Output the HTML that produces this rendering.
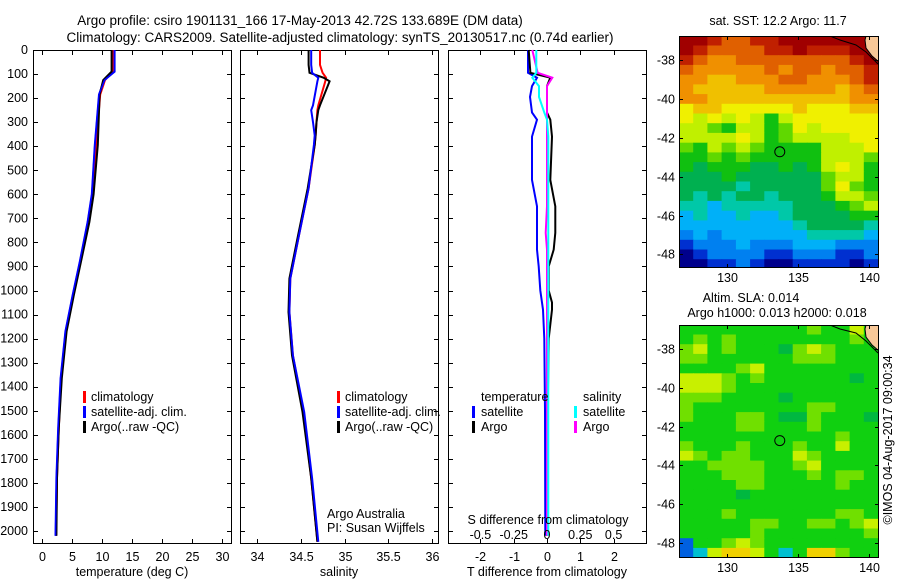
<!DOCTYPE html>
<html><head><meta charset="utf-8"><style>
html,body{margin:0;padding:0;background:#fff;}
svg{display:block;font-family:"Liberation Sans",sans-serif;}
text{font-size:12.5px;fill:#000;}
</style></head><body>
<svg id="fig" width="900" height="580" viewBox="0 0 900 580">
<text x="300" y="25" text-anchor="middle" style="font-size:13.5px">Argo profile: csiro 1901131_166 17-May-2013 42.72S 133.689E (DM data)</text>
<text x="340" y="42" text-anchor="middle" style="font-size:13.5px">Climatology: CARS2009. Satellite-adjusted climatology: synTS_20130517.nc (0.74d earlier)</text>
<text x="778" y="25" text-anchor="middle">sat. SST: 12.2 Argo: 11.7</text>
<text x="751" y="302" text-anchor="middle">Altim. SLA: 0.014</text>
<text x="777" y="317" text-anchor="middle">Argo h1000: 0.013 h2000: 0.018</text>
<text transform="translate(892,440) rotate(-90)" text-anchor="middle">©IMOS 04-Aug-2017 09:00:34</text>
<g id="g"></g>
</svg>
<script>
// ---- data ----
const depths = [0,90,125,185,395,600,715,880,1020,1170,1365,1570,1780,2020];
const tempClim = [11.8,11.8,10.5,9.7,9.0,8.5,7.7,6.4,5.2,4.0,3.2,2.8,2.5,2.35];
const tempSat = [12.1,12.1,10.4,9.5,8.8,8.3,7.6,6.3,5.1,3.9,3.1,2.7,2.4,2.25];
const tempArgo = [11.6,11.6,10.2,9.6,9.3,8.6,7.9,6.5,5.3,4.1,3.3,2.8,2.5,2.4];
const salDepths = [0,62,95,115,130,230,250,300,355,395,575,770,950,1090,1270,1505,1780,2045];
const salClim = [34.72,34.72,34.75,34.79,34.78,34.70,34.69,34.68,34.67,34.66,34.59,34.48,34.38,34.37,34.41,34.53,34.62,34.69];
const salSat = [34.62,34.62,34.63,34.70,34.69,34.64,34.62,34.64,34.66,34.65,34.59,34.48,34.38,34.37,34.41,34.54,34.63,34.70];
const salArgo = [34.59,34.59,34.60,34.76,34.83,34.72,34.70,34.68,34.67,34.66,34.58,34.47,34.37,34.36,34.40,34.52,34.62,34.69];
const dDepths = [0,95,115,150,195,260,290,360,540,650,760,830,900,1000,1050,1080,1200,1500,2020];
const dTSat = [-0.57,-0.57,-0.3,-0.45,-0.51,-0.45,-0.3,-0.45,-0.45,-0.3,-0.3,-0.3,-0.25,-0.2,-0.15,-0.12,-0.08,-0.06,-0.05];
const dTArgo = [-0.55,-0.5,0.1,0.0,0.0,0.0,0.1,0.15,0.1,0.25,0.25,0.2,0.05,0.05,0.15,0.15,0.05,0.02,0.0];
const dSArgo = [-0.11,-0.07,0.04,0.0,0.0,0.0,0.0,0.0,0.0,0.0,-0.01,0.0,0.0,0.0,0.0,0.0,0.0,0.0,0.0];
const dSSat = [-0.08,-0.08,-0.11,-0.06,-0.06,-0.02,0.0,0.01,0.01,0.01,0.01,0.01,0.01,0.01,0.01,0.01,0.01,0.01,0.01];
const depthTicks = [0,100,200,300,400,500,600,700,800,900,1000,1100,1200,1300,1400,1500,1600,1700,1800,1900,2000];
const tTicks = [0,5,10,15,20,25,30];
const sTicks = [34,34.5,35,35.5,36];
const dtTicks = [-2,-1,0,1,2];
const dsTicks = [-0.5,-0.25,0,0.25,0.5];
const sst = [
[15.2,15.2,14.7,14.2,14.2,14.7,14.7,15.2,15.2,15.2,15.2,15.2,15.2,15.2],
[15.2,14.7,14.2,14.2,14.2,14.2,14.7,14.7,15.2,14.7,14.7,14.7,15.2,15.2],
[14.7,14.2,13.7,13.7,14.2,14.2,14.2,14.2,14.2,14.2,14.2,14.2,14.7,15.2],
[14.2,13.7,13.7,13.7,13.7,13.7,14.2,13.7,14.2,14.2,13.7,14.2,14.2,14.7],
[13.7,13.7,13.3,13.3,13.7,13.7,13.7,14.2,14.2,13.7,13.7,13.7,14.2,14.7],
[13.7,13.3,13.3,13.3,13.3,13.3,13.7,13.7,13.7,13.7,13.7,13.3,13.7,14.2],
[13.7,13.7,13.3,13.3,13.3,13.3,13.3,13.3,13.3,13.3,13.3,13.3,13.7,13.7],
[12.9,13.3,13.3,12.9,12.9,12.9,12.9,12.9,13.3,12.9,12.9,12.9,13.3,13.3],
[12.9,12.6,12.9,12.6,12.9,12.6,12.0,12.6,12.9,12.9,12.9,12.9,12.9,12.9],
[12.6,12.6,12.3,12.0,12.6,12.6,12.0,12.3,12.9,12.6,12.9,12.9,12.9,12.9],
[12.6,12.6,12.6,12.6,12.9,12.6,12.0,12.3,12.6,12.6,12.6,12.6,12.9,12.9],
[12.3,12.0,12.6,12.3,12.6,12.3,12.0,12.0,12.0,12.0,12.6,12.6,12.6,12.9],
[12.0,12.0,12.3,12.0,12.3,12.0,12.0,12.0,12.0,12.0,12.6,12.6,12.6,12.3],
[12.0,11.7,12.0,12.0,12.0,11.7,11.7,12.0,11.7,12.0,12.6,12.9,12.6,12.0],
[11.7,11.7,11.7,12.0,11.7,11.7,11.7,11.7,11.7,11.7,12.3,12.6,12.6,12.0],
[11.7,11.7,11.7,11.7,11.4,11.7,11.7,11.7,11.7,11.7,12.3,12.9,12.3,12.0],
[11.7,11.4,11.7,11.4,11.7,11.7,11.4,11.7,11.7,11.7,12.0,12.6,12.6,12.3],
[11.4,11.4,11.1,11.4,11.4,11.4,11.4,11.4,11.7,11.7,11.7,12.0,12.3,12.6],
[11.1,11.4,11.1,11.1,11.4,11.1,11.1,11.4,11.7,11.7,11.7,11.7,12.0,12.0],
[11.1,11.1,11.1,11.1,11.1,11.1,11.1,11.1,11.4,11.7,11.7,11.7,11.7,11.4],
[10.8,11.1,10.8,11.1,11.1,11.1,11.1,11.1,11.1,11.4,11.4,11.4,11.4,11.1],
[10.4,10.8,10.8,10.8,11.1,10.8,10.8,10.8,11.1,11.1,11.1,10.8,10.8,10.8],
[10.0,10.4,10.8,10.8,10.8,10.8,10.4,10.4,10.8,10.8,10.8,10.4,10.4,10.8],
[10.0,10.0,10.4,10.4,10.8,10.4,10.0,10.0,10.4,10.4,10.4,10.4,10.0,10.4]];
const sla = [
[0,0,0,0,0,0,0,0,0,0.04,0,0,0.08,0],
[0,0.04,0,0.04,0,0,0,0,0,0,0,0,0.04,0],
[0.04,0.08,0,0.04,0,0,0,-0.03,0.04,0.08,0.04,0,0,0],
[0.04,0.04,0,0,0,0,0,0,0.04,0.04,0.04,0,0,0],
[0,0,0,0,0.04,0.08,0,0,0,0,0,0,0,0],
[0.08,0.08,0.08,0.04,0,0.04,0,0,0,0,0,0,-0.03,0],
[0.08,0.08,0.08,0.04,0,0,0,0,0,0,0,0,0,0],
[0.04,0.04,0.04,0,0,0,0,-0.03,0,0,0,0,0,0],
[0.04,0,0,0,0,0,0,0,0,0.04,0.04,0,0,0],
[0.04,0,0,0,0.04,0.04,0,-0.03,-0.03,0.04,0,0,0,-0.03],
[0,0,0,0,0.04,0.04,0,0,0,0.04,0,0,0,0],
[0,0,0,0,0,0,0,0,0,0,0,0.04,0,0],
[0.04,0,0,0,0.04,0,0,0,0.04,0,0,0.08,0,0],
[0.08,0.04,0,0.04,0.04,0,0,0,0.08,0.04,0,0,0,0],
[0,0,0.04,0.04,0.04,0.04,0,0,0.04,0.08,0,0,0,0],
[0,0,0,0.04,0.04,0.04,0,0,0,0.04,0,0.04,0.04,0],
[0,0,0,0,0.04,0.04,0,0,0,0,0,0.04,0,0],
[0,0,0,0,-0.03,0,0,0,0,0,0,0,0,0],
[0,0,0,0,0,0,0,0,0,0,0,0,0,0],
[0,0,0,0.04,0,0,0,0,0,0,0,0.04,0.04,0],
[0,0,0,0,0,0.04,0.04,0,0,0.04,0.04,0,0.04,0.08],
[0,0,0,0,0,0.04,0,0,0,0,0,0,0,0.04],
[-0.2,0,0,0.04,0.08,0.04,0,0,0,0,0,0,0,0],
[-0.2,-0.1,0.08,0.12,0.12,0.08,0,-0.1,0,0.12,0.12,0.04,0,0]];
const latTicks1 = [-38,-40,-42,-44,-46,-48];
const lonTicks = [130,135,140];
const argoLon = [133.69];
const argoLat = [-42.72];

// ---- helpers ----
const NS='http://www.w3.org/2000/svg';
const G=document.getElementById('g');
function el(t,a,p){const e=document.createElementNS(NS,t);for(const k in a)e.setAttribute(k,a[k]);(p||G).appendChild(e);return e;}
const yTop=50,yBot=543;
function yD(p){return 50+p*0.2405;}
function lin(d0,d1,r0,r1){return v=>r0+(v-d0)*(r1-r0)/(d1-d0);}

function panel(x0,x1,name){
  const r=el('rect',{x:x0+.5,y:yTop+.5,width:x1-x0,height:yBot-yTop,fill:'none',stroke:'#000','stroke-width':1});
  
  
  depthTicks.forEach(d=>{const y=Math.round(yD(d))+.5;
    el('line',{x1:x0,x2:x0+5,y1:y,y2:y,stroke:'#000'});
    el('line',{x1:x1-4,x2:x1+1,y1:y,y2:y,stroke:'#000'});});
}
function xticks(xs,vals,labY,fmt,top,bot){
  vals.forEach(v=>{const x=Math.round(xs(v))+.5;
    if(top)el('line',{x1:x,x2:x,y1:yTop,y2:yTop+5,stroke:'#000'});
    if(bot)el('line',{x1:x,x2:x,y1:yBot-4,y2:yBot+1,stroke:'#000'});
    if(labY){const t=el('text',{x:x,y:labY,'text-anchor':'middle'});t.textContent=fmt(v);
      
      }});
}
function curve(xs,vals,ds,color,name,w){
  const pts=vals.map((v,i)=>xs(v).toFixed(1)+','+yD(ds[i]).toFixed(1)).join(' ');
  const p=el('polyline',{points:pts,fill:'none',stroke:color,'stroke-width':w||2});
  
  
}
function txt(x,y,s,name,anchor){const t=el('text',{x:x,y:y,'text-anchor':anchor||'start'});t.textContent=s;
  
  return t;}
function legBar(x,y,c){el('rect',{x:x,y:y-10,width:3,height:12,fill:c});}

depthTicks.forEach(d=>{const t=el('text',{x:28,y:yD(d)+4,'text-anchor':'end'});t.textContent=d;
  
  });

// panel 1
const xT=lin(0,30,42,222);
panel(33,231,'temperature-panel');
xticks(xT,tTicks,561,v=>v,true,true);
txt(132,576,'temperature (deg C)','x-axis-title-temperature','middle');
curve(xT,tempClim,depths,'#ff0000','temp-climatology-line');
curve(xT,tempSat,depths,'#0000ff','temp-satellite-line');
curve(xT,tempArgo,depths,'#000000','temp-argo-line');
curve(xT,tempSat,depths,'#0000ff','temp-satellite-line-top',1.5);
legBar(83,401,'#f00');legBar(83,416,'#00f');legBar(83,431,'#000');
txt(91,401,'climatology','legend-climatology');txt(91,416,'satellite-adj. clim.','legend-satellite');txt(91,431,'Argo(..raw -QC)','legend-argo');

// panel 2
const xS=lin(34,36,257,432);
panel(240,438,'salinity-panel');
xticks(xS,sTicks,561,v=>v,true,true);
txt(339,576,'salinity','x-axis-title-salinity','middle');
curve(xS,salClim,salDepths,'#ff0000','sal-climatology-line');
curve(xS,salArgo,salDepths,'#000000','sal-argo-line');
curve(xS,salSat,salDepths,'#0000ff','sal-satellite-line');
legBar(337,401,'#f00');legBar(337,416,'#00f');legBar(337,431,'#000');
txt(345,401,'climatology','legend-climatology-2');txt(345,416,'satellite-adj. clim.','legend-satellite-2');txt(345,431,'Argo(..raw -QC)','legend-argo-2');
txt(327,518,'Argo Australia','argo-australia-label');txt(327,532,'PI: Susan Wijffels','pi-label');

// panel 3
const xdT=lin(0,2,547,613.6), xdS=lin(0,0.5,547,613.6);
panel(448,646,'difference-panel');
xticks(xdT,dtTicks,561,v=>v,false,true);
xticks(xdS,dsTicks,0,v=>v,true,false);
dsTicks.forEach(v=>{const x=Math.round(xdS(v))+.5;el('line',{x1:x,x2:x,y1:yBot-4,y2:yBot+1,stroke:'#000'});});
txt(547,576,'T difference from climatology','x-axis-title-tdiff','middle');
curve(xdT,dTSat,dDepths,'#0000ff','tdiff-satellite-line');
curve(xdT,dTArgo,dDepths,'#000000','tdiff-argo-line');
curve(xdS,dSArgo,dDepths,'#ff00ff','sdiff-argo-line');
curve(xdS,dSSat,dDepths,'#00ffff','sdiff-satellite-line');
txt(548,524,'S difference from climatology','s-diff-title','middle');
dsTicks.forEach(v=>{txt(xdS(v),539,String(v),'s-diff-tick-label','middle');});
txt(481,401,'temperature','legend-temperature');txt(583,401,'salinity','legend-salinity');
legBar(472,416,'#00f');legBar(472,431,'#000');legBar(574,416,'#0ff');legBar(574,431,'#f0f');
txt(481,416,'satellite','legend-t-satellite');txt(481,431,'Argo','legend-t-argo');
txt(583,416,'satellite','legend-s-satellite');txt(583,431,'Argo','legend-s-argo');

// ---- maps ----
const sstStops=[[10.0,'#00008c'],[10.4,'#0030d0'],[10.8,'#0080f0'],[11.1,'#00b0f8'],[11.4,'#00c8a8'],[11.7,'#00b050'],[12.0,'#10c010'],[12.3,'#60d800'],[12.6,'#c0f000'],[12.9,'#f0f000'],[13.3,'#f0c000'],[13.7,'#f09000'],[14.2,'#e06000'],[14.7,'#c02000'],[15.2,'#a00000']];
const slaStops=[[-0.2,'#0060e0'],[-0.1,'#00c0d0'],[-0.03,'#00b840'],[0,'#10d010'],[0.04,'#70e000'],[0.08,'#c8f000'],[0.12,'#f0d000']];
function col(stops,v){let best=stops[0];stops.forEach(s=>{if(Math.abs(s[0]-v)<Math.abs(best[0]-v))best=s;});return best[1];}

function drawMap(m){
  const lx=lin(126.6,140.6,m.x0,m.x1), ly=lin(m.latTop,m.latBot,m.y0,m.y1);
  const clip=el('clipPath',{id:'c'+m.id});el('rect',{x:m.x0,y:m.y0,width:m.x1-m.x0,height:m.y1-m.y0},clip);
  const g=el('g',{'clip-path':'url(#c'+m.id+')'});
  
  
  m.data.forEach((row,i)=>row.forEach((v,j)=>{
    const la=m.rowLat0-i*0.5, lo=126.6+j;
    const x=lx(lo),y=ly(la);
    const c=el('rect',{x:x.toFixed(1),y:y.toFixed(1),width:(lx(lo+1)-x+0.6).toFixed(1),height:(ly(la-0.5)-y+0.6).toFixed(1),fill:col(m.stops,v)},g);
    
    
  }));
  el('polygon',{points:m.land,fill:'#f8c898',stroke:'#000','stroke-width':1},g);
  if(m.contour)el('polyline',{points:m.contour,fill:'none',stroke:'#000','stroke-width':1},g);
  const ac=el('circle',{cx:lx(argoLon[0]),cy:ly(argoLat[0]),r:5,fill:'none',stroke:'#000','stroke-width':1});
  
  
  el('rect',{x:m.x0+.5,y:m.y0+.5,width:m.x1-m.x0,height:m.y1-m.y0,fill:'none',stroke:'#000'});
  m.latTicks.forEach(la=>{const y=Math.round(ly(la))+.5;
    el('line',{x1:m.x0,x2:m.x0+4,y1:y,y2:y,stroke:'#000'});el('line',{x1:m.x1-3,x2:m.x1+1,y1:y,y2:y,stroke:'#000'});
    txt(m.x0-4,y+4,String(la),'lat-tick-label','end');});
  lonTicks.forEach(lo=>{const x=Math.round(lx(lo))+.5;
    el('line',{x1:x,x2:x,y1:m.y0,y2:m.y0+4,stroke:'#000'});el('line',{x1:x,x2:x,y1:m.y1-3,y2:m.y1+1,stroke:'#000'});
    txt(x,m.y1+15,String(lo),'lon-tick-label','middle');});
}
drawMap({id:1,name:'sst-map',x0:679,x1:878,y0:36,y1:267,latTop:-36.76,latBot:-48.65,rowLat0:-36.75,data:sst,stops:sstStops,
  latTicks:latTicks1,land:'866,36 879,36 879,62 872,56 866,48 865,40',contour:'830,36 840,40 856,45 866,52 878,64'});
drawMap({id:2,name:'sla-map',x0:679,x1:878,y0:325,y1:557,latTop:-36.76,latBot:-48.72,rowLat0:-36.75,data:sla,stops:slaStops,
  latTicks:latTicks1,land:'866,325 879,325 879,351 872,345 866,337 865,329',contour:'830,325 840,329 856,333 866,341 878,353'});
</script>
</body></html>
